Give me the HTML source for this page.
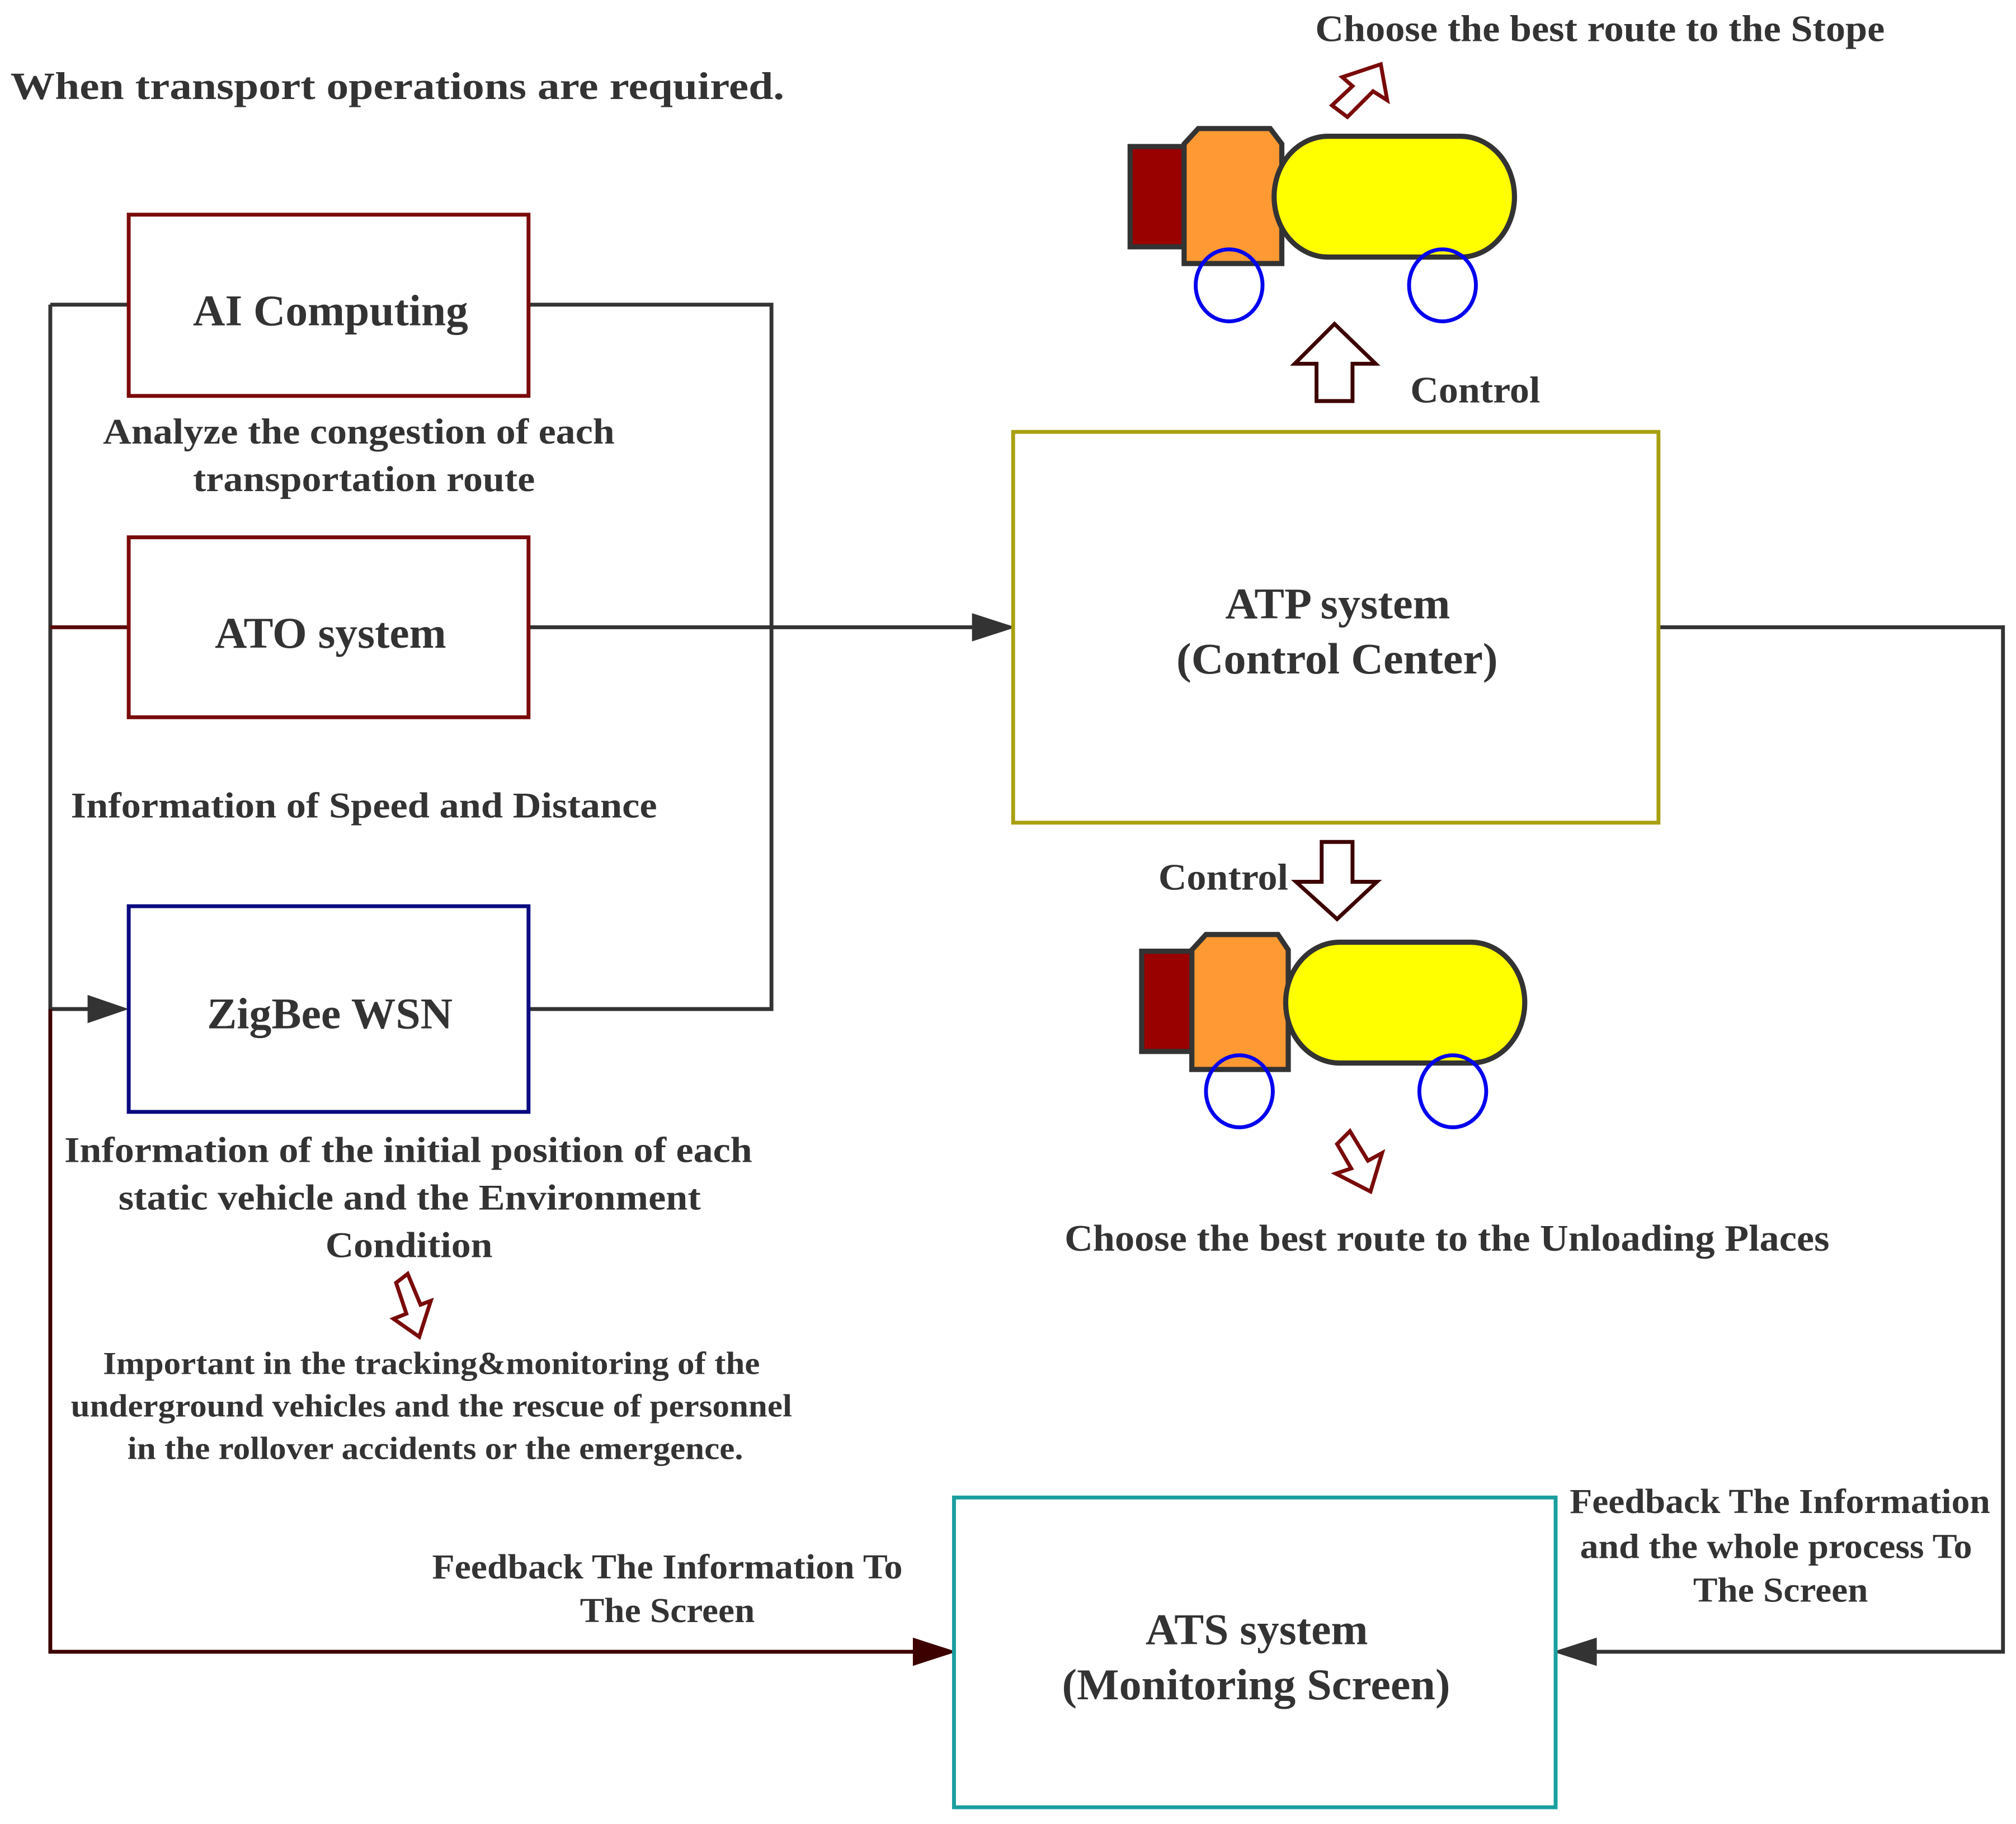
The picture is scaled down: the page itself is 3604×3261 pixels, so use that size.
<!DOCTYPE html>
<html><head><meta charset="utf-8"><style>
html,body{margin:0;padding:0;background:#fff;}
svg{display:block;}
text{font-family:"Liberation Serif",serif;font-weight:bold;fill:#333;}
</style></head><body>
<svg width="3604" height="3261" viewBox="0 0 1568 1419" xmlns="http://www.w3.org/2000/svg">
<defs>
<marker id="ah" markerWidth="10" markerHeight="8" refX="10" refY="4" orient="auto" markerUnits="userSpaceOnUse" viewBox="0 0 10 8">
</marker>
</defs>
<!-- connectors -->
<g fill="none" stroke-width="3">
<path d="M39 237 H100" stroke="#333"/>
<path d="M39 237 V785" stroke="#333"/>
<path d="M39 488 H100" stroke="#5a0a0a"/>
<path d="M39 785 H70" stroke="#333"/>
<path d="M39 785 V1285 H712" stroke="#3d0000"/>
<path d="M411 237 H600 V785 H411" stroke="#333"/>
<path d="M411 488 H758" stroke="#333"/>
<path d="M1290 488 H1558 V1285 H1240" stroke="#333"/>
</g>
<polygon points="68,774 100,785 68,796" fill="#333"/>
<polygon points="756,477 790,488 756,499" fill="#333"/>
<polygon points="710,1274 744,1285 710,1296" fill="#3d0000"/>
<polygon points="1242,1274 1208,1285 1242,1296" fill="#333"/>
<!-- boxes -->
<g fill="#fff" stroke-width="3">
<rect x="100" y="167" width="311" height="141" stroke="#7a0a0a"/>
<rect x="100" y="418" width="311" height="140" stroke="#7a0a0a"/>
<rect x="100" y="705" width="311" height="160" stroke="#0a0a80"/>
<rect x="788" y="336" width="502" height="304" stroke="#a8a010"/>
<rect x="742" y="1165" width="468" height="241" stroke="#1a9e9e"/>
</g>
<!-- trucks -->
<g stroke="#333" stroke-width="4">
<rect x="879" y="114" width="42" height="78" fill="#990000"/>
<polygon points="921,112 932,100 988,100 997,112 997,205 921,205" fill="#ff9933"/>
<rect x="991" y="106" width="187" height="94" rx="42" ry="47" fill="#ffff00"/>
<rect x="888" y="740" width="42" height="78" fill="#990000"/>
<polygon points="927,739 938,727 994,727 1002,739 1002,832 927,832" fill="#ff9933"/>
<rect x="1000" y="733" width="186" height="94" rx="42" ry="47" fill="#ffff00"/>
</g>
<g fill="none" stroke="#0000ee" stroke-width="3">
<ellipse cx="956" cy="222" rx="26" ry="28"/>
<ellipse cx="1122" cy="222" rx="26" ry="28"/>
<ellipse cx="964" cy="849" rx="26" ry="28"/>
<ellipse cx="1130" cy="849" rx="26" ry="28"/>
</g>
<!-- hollow arrows -->
<g fill="#fff" stroke-width="3">
<polygon points="1038,252 1070,283 1052,283 1052,312 1024,312 1024,283 1007,283" stroke="#3d0000"/>
<polygon points="1028,655 1052,655 1052,686 1071,686 1040,715 1008,686 1028,686" stroke="#3d0000"/>
<polygon points="1048,91 1036,82 1052,67 1044,60 1074,50 1079,78 1068,71" stroke="#7a0a0a"/>
<polygon points="1040,890 1050,880 1064,903 1075,897 1066,927 1039,913 1051,909" stroke="#7a0a0a"/>
<polygon points="308,998 317,991 327,1015 335,1012 326,1040 306,1026 316,1022" stroke="#7a0a0a"/>
</g>
<!-- text -->
<text x="8" y="77" font-size="30" textLength="602" lengthAdjust="spacingAndGlyphs">When transport operations are required.</text>
<text x="1023" y="32" font-size="29" textLength="443" lengthAdjust="spacingAndGlyphs">Choose the best route to the Stope</text>
<text x="150" y="253" font-size="34" textLength="214" lengthAdjust="spacingAndGlyphs">AI Computing</text>
<text x="80" y="345" font-size="28" textLength="398" lengthAdjust="spacingAndGlyphs">Analyze the congestion of each</text>
<text x="150" y="382" font-size="28" textLength="266" lengthAdjust="spacingAndGlyphs">transportation route</text>
<text x="167" y="504" font-size="34" textLength="180" lengthAdjust="spacingAndGlyphs">ATO system</text>
<text x="55" y="636" font-size="28" textLength="456" lengthAdjust="spacingAndGlyphs">Information of Speed and Distance</text>
<text x="161" y="800" font-size="34" textLength="191" lengthAdjust="spacingAndGlyphs">ZigBee WSN</text>
<text x="50" y="904" font-size="28" textLength="535" lengthAdjust="spacingAndGlyphs">Information of the initial position of each</text>
<text x="92" y="941" font-size="28" textLength="453" lengthAdjust="spacingAndGlyphs">static vehicle and the Environment</text>
<text x="253" y="978" font-size="28" textLength="130" lengthAdjust="spacingAndGlyphs">Condition</text>
<text x="80" y="1069" font-size="25" textLength="511" lengthAdjust="spacingAndGlyphs">Important in the tracking&amp;monitoring of the</text>
<text x="55" y="1102" font-size="25" textLength="561" lengthAdjust="spacingAndGlyphs">underground vehicles and the rescue of personnel</text>
<text x="99" y="1135" font-size="25" textLength="479" lengthAdjust="spacingAndGlyphs">in the rollover accidents or the emergence.</text>
<text x="336" y="1228" font-size="27" textLength="366" lengthAdjust="spacingAndGlyphs">Feedback The Information To</text>
<text x="451" y="1262" font-size="27" textLength="136" lengthAdjust="spacingAndGlyphs">The Screen</text>
<text x="1097" y="313" font-size="29" textLength="101" lengthAdjust="spacingAndGlyphs">Control</text>
<text x="901" y="692" font-size="29" textLength="101" lengthAdjust="spacingAndGlyphs">Control</text>
<text x="953" y="481" font-size="34" textLength="175" lengthAdjust="spacingAndGlyphs">ATP system</text>
<text x="915" y="524" font-size="34" textLength="250" lengthAdjust="spacingAndGlyphs">(Control Center)</text>
<text x="828" y="973" font-size="29" textLength="595" lengthAdjust="spacingAndGlyphs">Choose the best route to the Unloading Places</text>
<text x="1221" y="1177" font-size="27" textLength="327" lengthAdjust="spacingAndGlyphs">Feedback The Information</text>
<text x="1229" y="1212" font-size="27" textLength="305" lengthAdjust="spacingAndGlyphs">and the whole process To</text>
<text x="1317" y="1246" font-size="27" textLength="136" lengthAdjust="spacingAndGlyphs">The Screen</text>
<text x="891" y="1279" font-size="34" textLength="173" lengthAdjust="spacingAndGlyphs">ATS system</text>
<text x="826" y="1322" font-size="34" textLength="302" lengthAdjust="spacingAndGlyphs">(Monitoring Screen)</text>
</svg>
</body></html>
